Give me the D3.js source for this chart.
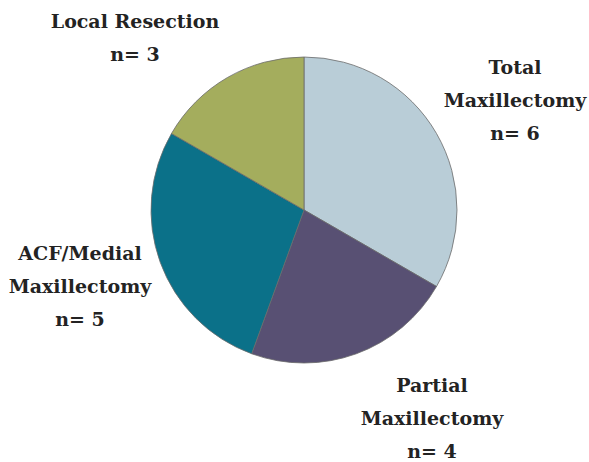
<!DOCTYPE html>
<html>
<head>
<meta charset="utf-8">
<script src="https://cdn.jsdelivr.net/npm/d3@7"></script>
<style>
  html, body { margin: 0; padding: 0; background: #fff; }
  svg { display: block; }
  .lbl { font-family: "DejaVu Serif", "Liberation Serif", serif; font-weight: bold; }
</style>
</head>
<body>
<svg id="chart" width="589" height="462"></svg>
<script>
// Surgical procedure groups, clockwise from 12 o'clock
const categories = ["Total Maxillectomy", "Partial Maxillectomy", "ACF/Medial Maxillectomy", "Local Resection"];
const counts = [6, 4, 5, 3];
const colors = ["#b9cdd7", "#585073", "#0b7189", "#a4ad5d"];
// Label lines for each slice
const labelLines = [
  ["Total", "Maxillectomy", "n= 6"],
  ["Partial", "Maxillectomy", "n= 4"],
  ["ACF/Medial", "Maxillectomy", "n= 5"],
  ["Local Resection", "n= 3"]
];
// Label anchor (centre x, first baseline y)
const labelPos = [[515, 74], [432, 392], [80, 260], [135, 28]];

const svg = d3.select("#chart");
const cx = 304, cy = 210, r = 153;

const pie = d3.pie().sort(null).value(d => d)(counts);
const arc = d3.arc().innerRadius(0).outerRadius(r);

const g = svg.append("g").attr("transform", `translate(${cx},${cy})`);
g.selectAll("path")
  .data(pie)
  .join("path")
  .attr("d", arc)
  .attr("fill", (d, i) => colors[i])
  .attr("stroke", "#6b6b6b")
  .attr("stroke-width", 0.8);

const lineGap = 33;
labelLines.forEach((lines, i) => {
  const t = svg.append("text")
    .attr("class", "lbl")
    .attr("text-anchor", "middle")
    .attr("font-size", 19)
    .attr("fill", "#232323");
  lines.forEach((s, j) => {
    t.append("tspan")
      .attr("x", labelPos[i][0])
      .attr("y", labelPos[i][1] + j * lineGap)
      .text(s);
  });
});
</script>
</body>
</html>
